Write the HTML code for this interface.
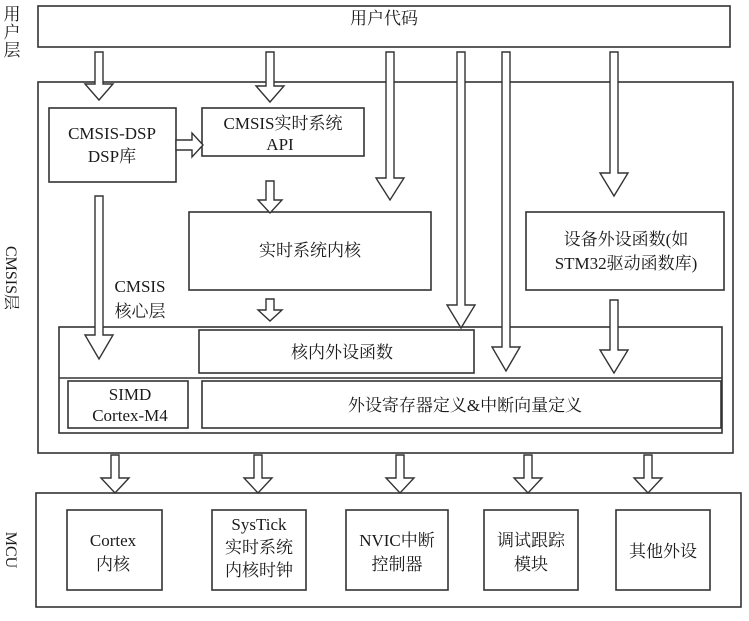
<!DOCTYPE html>
<html><head><meta charset="utf-8"><style>
body{margin:0;background:#fff;}
svg text{font-family:"Liberation Serif","Noto Serif CJK SC",serif;font-size:17px;fill:#1a1a1a;text-anchor:middle;}
</style></head><body>
<svg width="749" height="616" viewBox="0 0 749 616" xmlns="http://www.w3.org/2000/svg">
<g fill="#fff" stroke="#333" stroke-width="1.6">
<rect x="38" y="6" width="692" height="41"/>
<rect x="38" y="82" width="695" height="371"/>
<rect x="36" y="493" width="705" height="114"/>
<rect x="49" y="108" width="127" height="74"/>
<rect x="202" y="108" width="162" height="48"/>
<rect x="189" y="212" width="242" height="78"/>
<rect x="526" y="212" width="198" height="78"/>
<rect x="59" y="327" width="663" height="106"/>
<line x1="59" y1="378" x2="722" y2="378"/>
<rect x="199" y="330" width="275" height="43"/>
<rect x="68" y="381" width="120" height="47"/>
<rect x="202" y="381" width="519" height="47"/>
<rect x="67" y="510" width="95" height="80"/>
<rect x="212" y="510" width="94" height="80"/>
<rect x="346" y="510" width="102" height="80"/>
<rect x="484" y="510" width="94" height="80"/>
<rect x="616" y="510" width="94" height="80"/>
</g>
<g fill="#fff" stroke="#333" stroke-width="1.4">
<polygon points="95,52 103,52 103,84 113,84 99,100 85,84 95,84"/>
<polygon points="266,52 274,52 274,86 284,86 270,102 256,86 266,86"/>
<polygon points="386,52 394,52 394,178 404,178 390,200 376,178 386,178"/>
<polygon points="457,52 465,52 465,305 475,305 461,328 447,305 457,305"/>
<polygon points="502,52 510,52 510,347 520,347 506,371 492,347 502,347"/>
<polygon points="610,52 618,52 618,173 628,173 614,196 600,173 610,173"/>
<polygon points="95,196 103,196 103,335 113,335 99,359 85,335 95,335"/>
<polygon points="266,181 274,181 274,200 282,200 270,213 258,200 266,200"/>
<polygon points="266,299 274,299 274,310 282,310 270,321 258,310 266,310"/>
<polygon points="610,300 618,300 618,350 628,350 614,373 600,350 610,350"/>
<polygon points="176,140 192,140 192,133 203,145 192,157 192,150 176,150"/>
<polygon points="111,455 119,455 119,478 129,478 115,493 101,478 111,478"/>
<polygon points="254,455 262,455 262,478 272,478 258,493 244,478 254,478"/>
<polygon points="396,455 404,455 404,478 414,478 400,493 386,478 396,478"/>
<polygon points="524,455 532,455 532,478 542,478 528,493 514,478 524,478"/>
<polygon points="644,455 652,455 652,478 662,478 648,493 634,478 644,478"/>
</g>
<text x="384" y="24">用户代码</text>
<text x="12" y="20">用</text><text x="12" y="38">户</text><text x="12" y="56">层</text>
<text transform="translate(6,278) rotate(90)" style="font-size:16px">CMSIS层</text>
<text transform="translate(6,550) rotate(90)" style="font-size:16px">MCU</text>
<text x="112" y="139">CMSIS-DSP</text><text x="112" y="162">DSP库</text>
<text x="283" y="129">CMSIS实时系统</text><text x="280" y="150">API</text>
<text x="310" y="256">实时系统内核</text>
<text x="626" y="245">设备外设函数(如</text><text x="626" y="269">STM32驱动函数库)</text>
<text x="140" y="292">CMSIS</text><text x="140" y="317">核心层</text>
<text x="342" y="358">核内外设函数</text>
<text x="130" y="400">SIMD</text><text x="130" y="421">Cortex-M4</text>
<text x="465" y="411">外设寄存器定义&amp;中断向量定义</text>
<text x="113" y="546">Cortex</text><text x="113" y="570">内核</text>
<text x="259" y="530">SysTick</text><text x="259" y="553">实时系统</text><text x="259" y="576">内核时钟</text>
<text x="397" y="546">NVIC中断</text><text x="397" y="570">控制器</text>
<text x="531" y="546">调试跟踪</text><text x="531" y="570">模块</text>
<text x="663" y="557">其他外设</text>
</svg>
</body></html>
